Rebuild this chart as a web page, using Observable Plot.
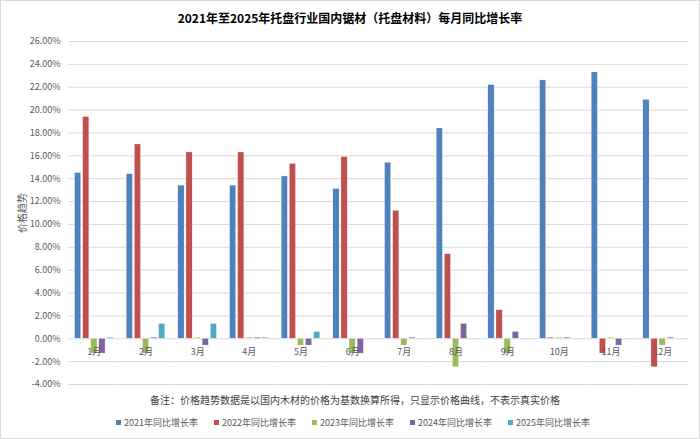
<!DOCTYPE html>
<html><head><meta charset="utf-8">
<script src="https://cdn.jsdelivr.net/npm/d3@7"></script>
<script src="https://cdn.jsdelivr.net/npm/@observablehq/plot@0.6"></script>
<style>
body{margin:0;background:#fff;font-family:"Noto Sans CJK SC","Noto Sans",sans-serif;}
#wrap{position:relative;width:700px;height:439px;overflow:hidden;background:#fff;}
#border{position:absolute;left:0;top:0;width:698px;height:437px;border:1px solid #d9d9d9;pointer-events:none;}
#title{position:absolute;top:8px;left:0;width:700px;text-align:center;font-size:12px;font-weight:bold;color:#000;line-height:20px;}
#chart{position:absolute;top:30px;left:0;}
#ylabel{position:absolute;left:22px;top:213px;transform:translate(-50%,-50%) rotate(-90deg);font-size:10px;color:#595959;white-space:nowrap;line-height:12px;}
#note{position:absolute;top:392px;left:0;width:710px;text-align:center;font-size:10px;color:#404040;line-height:16px;}
#legend{position:absolute;top:415px;left:0;width:706px;text-align:center;font-size:9px;color:#595959;line-height:16px;white-space:nowrap;}
#legend span.item{display:inline-block;margin:0 8px;}
#legend span.sw{display:inline-block;width:5px;height:5px;margin-right:3px;vertical-align:1px;}
</style>
</head><body>
<div id="wrap">
<div id="title">2021年至2025年托盘行业国内锯材（托盘材料）每月同比增长率</div>
<div id="chart"></div>
<div id="ylabel">价格趋势</div>
<div id="note">备注：价格趋势数据是以国内木材的价格为基数换算所得，只显示价格曲线，不表示真实价格</div>
<div id="legend"></div>
<div id="border"></div>
</div>
<script>
const months = ["1月","2月","3月","4月","5月","6月","7月","8月","9月","10月","11月","12月"];
const series = ["2021年同比增长率","2022年同比增长率","2023年同比增长率","2024年同比增长率","2025年同比增长率"];
const colors = ["#4F81BD","#C0504D","#9BBB59","#8064A2","#4BACC6"];
const y2021 = [14.5, 14.4, 13.4, 13.4, 14.2, 13.1, 15.4, 18.4, 22.2, 22.6, 23.3, 20.9];
const y2022 = [19.4, 17.0, 16.3, 16.3, 15.3, 15.9, 11.2, 7.4, 2.5, 0.1, -1.3, -2.5];
const y2023 = [-1.3, -1.3, 0.1, 0.1, -0.6, -1.3, -0.6, -2.5, -1.3, 0.1, 0.1, -0.6];
const y2024 = [-1.3, 0.1, -0.6, 0.1, -0.6, -1.3, 0.1, 1.3, 0.6, 0.1, -0.6, 0.1];
const y2025 = [0.1, 1.3, 1.3, 0.1, 0.6, null, null, null, null, null, null, null];
const yTicks = [-4,-2,0,2,4,6,8,10,12,14,16,18,20,22,24,26];

const allSeries = [y2021, y2022, y2023, y2024, y2025];
const rows = [];
allSeries.forEach((arr, si) => arr.forEach((v, mi) => {
  if (v !== null) rows.push({month: months[mi], series: series[si], value: v});
}));

const font = '"Noto Sans CJK SC","Noto Sans",sans-serif';
const chart = Plot.plot({
  width: 700, height: 360,
  marginLeft: 68, marginRight: 12, marginTop: 11, marginBottom: 6,
  style: {fontFamily: font, fontSize: "9px", color: "#595959", background: "transparent"},
  fx: {domain: months, padding: 0, round: false, axis: null},
  x: {domain: series, axis: null, paddingInner: 0.22, paddingOuter: 0.8, round: false},
  y: {domain: [-4, 26], axis: null},
  color: {domain: series, range: colors},
  marks: [
    Plot.ruleY(yTicks, {stroke: "#d9d9d9", strokeWidth: 1}),
    Plot.barY(rows, {fx: "month", x: "series", y: "value", fill: "series", stroke: "white", strokeWidth: 0.4}),
    Plot.text(months, {fx: d => d, y: () => 0, text: d => d, dy: 13, fill: "#595959", fontSize: 9}),
    Plot.axisY({ticks: yTicks, tickFormat: d => d.toFixed(2) + "%", tickSize: 0, tickPadding: 8,
      label: null, fill: "#595959", fontSize: 9})
  ]
});
document.getElementById("chart").appendChild(chart);

const lg = document.getElementById("legend");
series.forEach((s, i) => {
  const it = document.createElement("span");
  it.className = "item";
  const sw = document.createElement("span");
  sw.className = "sw";
  sw.style.background = colors[i];
  it.appendChild(sw);
  it.appendChild(document.createTextNode(s));
  lg.appendChild(it);
});
</script>
</body></html>
